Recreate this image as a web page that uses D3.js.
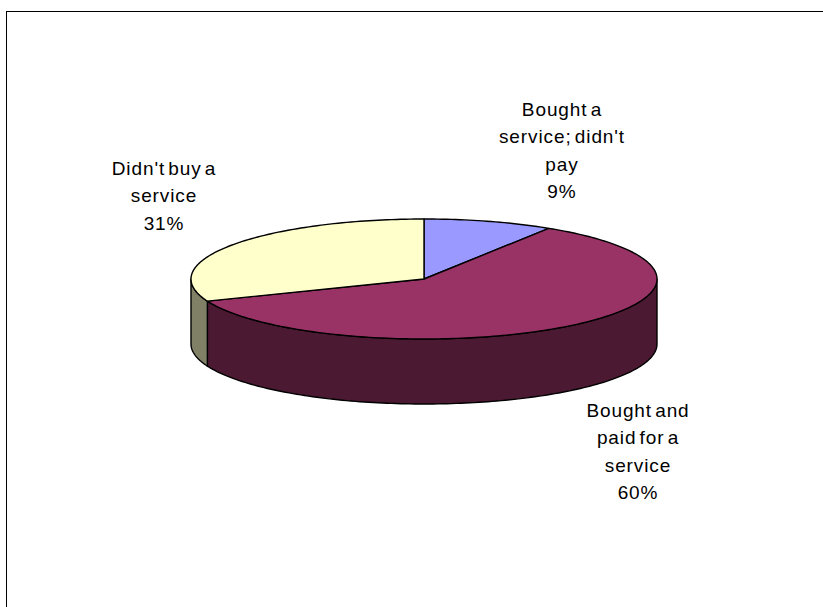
<!DOCTYPE html>
<html>
<head>
<meta charset="utf-8">
<script src="https://cdn.jsdelivr.net/npm/d3@7/dist/d3.min.js"></script>
<style>
  html, body { margin: 0; padding: 0; background: #fff; }
  svg { display: block; }
  text { font-family: "Liberation Sans", Arial, sans-serif; }
</style>
</head>
<body>
<svg id="chart" width="823" height="607"></svg>
<script>
// Survey answers, in drawing order (clockwise from 12 o'clock)
const categories = [
  ["Bought a", "service; didn't", "pay"],
  ["Bought and", "paid for a", "service"],
  ["Didn't buy a", "service"]
];
const values = [9, 60, 31];
const topColors  = ["#9999FF", "#993366", "#FFFFCC"];
const sideColors = ["#4C4C80", "#4C1933", "#808066"];

// Layout of the tilted disc
const W = 823, H = 607;
const cx = 424, cy = 279;       // centre of the top face
const rx = 233, ry = 60;        // radii of the top ellipse
const depth = 65;               // thickness of the disc
// Label anchors (centre x, first-line y) relative to the disc centre
const labelAnchors = [
  { dx: 138, dy: -170 },
  { dx: 214, dy: 131 },
  { dx: -260, dy: -111 }
];
const lineH = 27.5;

const svg = d3.select("#chart");

// Chart frame
svg.append("rect")
  .attr("x", 6.5).attr("y", 11.5)
  .attr("width", W).attr("height", H)
  .attr("fill", "#fff").attr("stroke", "#000").attr("stroke-width", 1);

const pie = d3.pie().sort(null).value(d => d)(values);
const total = d3.sum(values);

// Project an angle (clockwise from top) onto the ellipse
const px = a => cx + rx * Math.sin(a);
const py = a => cy - ry * Math.cos(a);

function arcPoints(a0, a1, dy) {
  const n = Math.max(2, Math.ceil(Math.abs(a1 - a0) / 0.02));
  return d3.range(n + 1).map(i => {
    const a = a0 + (a1 - a0) * i / n;
    return [px(a), py(a) + dy];
  });
}

const line = d3.line();
const g = svg.append("g");

// Front walls: only the half of the rim between 90° and 270° faces the viewer
const frontStart = Math.PI / 2, frontEnd = 3 * Math.PI / 2;
pie.forEach((s, i) => {
  const a0 = Math.max(s.startAngle, frontStart);
  const a1 = Math.min(s.endAngle, frontEnd);
  if (a1 <= a0) return;
  const pts = arcPoints(a0, a1, 0).concat(arcPoints(a1, a0, depth));
  g.append("path")
    .attr("d", line(pts) + "Z")
    .attr("fill", sideColors[i])
    .attr("stroke", "#000").attr("stroke-width", 1.4)
    .attr("stroke-linejoin", "round");
});

// Top faces
pie.forEach((s, i) => {
  const pts = [[cx, cy]].concat(arcPoints(s.startAngle, s.endAngle, 0));
  g.append("path")
    .attr("d", line(pts) + "Z")
    .attr("fill", topColors[i])
    .attr("stroke", "#000").attr("stroke-width", 1.4)
    .attr("stroke-linejoin", "round");
});

// Data labels: category name plus share of the total
pie.forEach((s, i) => {
  const lines = categories[i].concat([Math.round(s.data / total * 100) + "%"]);
  const t = svg.append("text")
    .attr("text-anchor", "middle")
    .attr("font-size", 19)
    .attr("letter-spacing", 0.9)
    .attr("word-spacing", -3)
    .attr("fill", "#000");
  lines.forEach((ln, k) => {
    t.append("tspan")
      .attr("x", cx + labelAnchors[i].dx)
      .attr("y", cy + labelAnchors[i].dy + k * lineH)
      .attr("dominant-baseline", "central")
      .text(ln);
  });
});
</script>
</body>
</html>
